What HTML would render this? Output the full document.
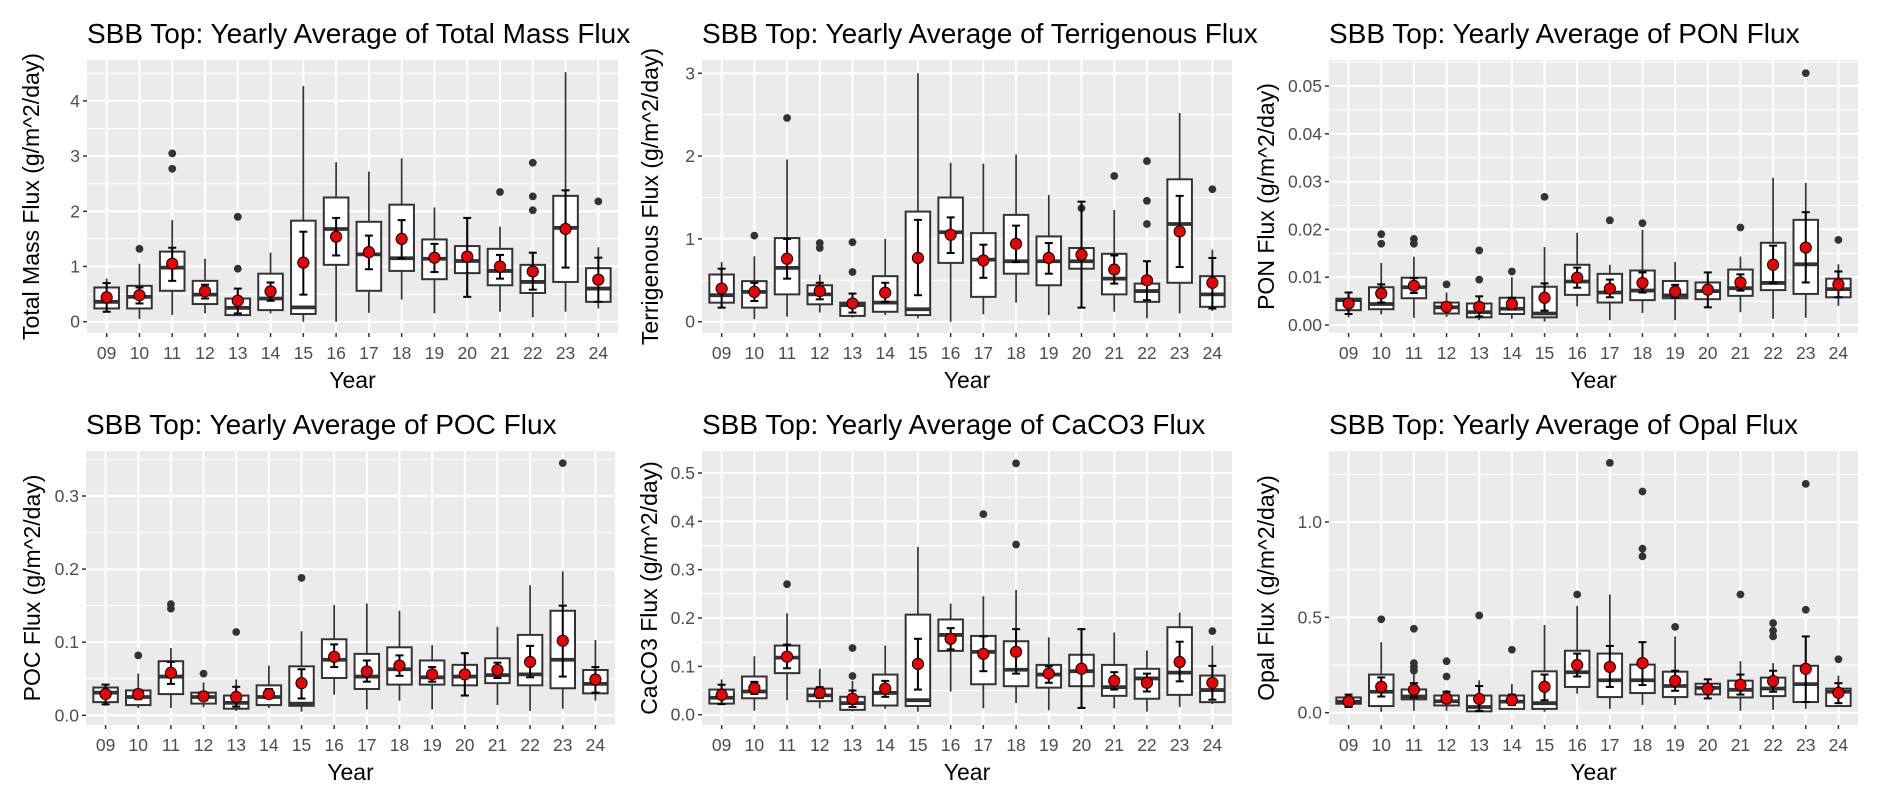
<!DOCTYPE html>
<html><head><meta charset="utf-8"><style>
html,body{margin:0;padding:0;background:#fff;}
svg{display:block;font-family:"Liberation Sans",Arial,sans-serif;}
</style></head><body>
<svg id="fig" width="1882" height="804" viewBox="0 0 1882 804" xmlns="http://www.w3.org/2000/svg"></svg>
<script>
const years = ["09","10","11","12","13","14","15","16","17","18","19","20","21","22","23","24"];

// Panel 1: Total Mass Flux
const tmQ1 = [0.24,0.24,0.56,0.32,0.12,0.21,0.14,1.03,0.56,0.92,0.77,0.88,0.66,0.52,0.72,0.36];
const tmMed = [0.36,0.45,0.98,0.49,0.25,0.42,0.26,1.68,1.22,1.15,1.14,1.10,0.92,0.72,1.70,0.60];
const tmQ3 = [0.62,0.65,1.27,0.74,0.42,0.87,1.83,2.25,1.81,2.12,1.49,1.37,1.32,1.03,2.28,0.97];
const tmWlo = [0.18,0.05,0.12,0.15,0.10,0.15,0.00,0.00,0.16,0.40,0.15,0.45,0.18,0.08,0.18,0.24];
const tmWhi = [0.78,1.05,1.84,1.14,0.60,1.25,4.27,2.89,2.72,2.96,2.07,1.88,1.72,1.25,4.52,1.35];
const tmMean = [0.44,0.48,1.05,0.55,0.38,0.55,1.07,1.54,1.26,1.50,1.16,1.18,1.00,0.91,1.68,0.76];
const tmElo = [0.18,0.33,0.74,0.42,0.15,0.38,0.49,1.20,0.95,1.15,0.90,0.45,0.78,0.58,0.98,0.36];
const tmEhi = [0.70,0.62,1.34,0.67,0.60,0.71,1.63,1.88,1.56,1.84,1.41,1.88,1.21,1.25,2.38,1.16];
const tmOut = [[],[1.32],[3.05,2.77],[],[1.9,0.96],[],[],[],[],[],[],[],[2.35],[2.88,2.27,2.02],[],[2.18]];
const tmTicks = [0,1,2,3,4];
const tmTickLabels = ["0","1","2","3","4"];

// Panel 2: Terrigenous Flux
const teQ1 = [0.23,0.17,0.33,0.21,0.07,0.12,0.08,0.71,0.30,0.58,0.44,0.64,0.33,0.24,0.47,0.18];
const teMed = [0.32,0.36,0.65,0.33,0.20,0.23,0.15,1.08,0.75,0.73,0.73,0.73,0.52,0.37,1.18,0.33];
const teQ3 = [0.57,0.49,1.01,0.44,0.23,0.55,1.33,1.50,1.07,1.29,1.03,0.89,0.82,0.46,1.72,0.55];
const teWlo = [0.17,0.03,0.06,0.11,0.05,0.08,0.04,0.00,0.09,0.23,0.08,0.17,0.12,0.04,0.10,0.13];
const teWhi = [0.72,0.79,1.96,0.57,0.24,1.00,3.00,1.92,1.91,2.02,1.53,1.45,1.35,0.73,2.52,0.87];
const teMean = [0.40,0.36,0.76,0.37,0.22,0.35,0.77,1.05,0.74,0.94,0.77,0.81,0.63,0.50,1.09,0.47];
const teElo = [0.17,0.25,0.52,0.27,0.11,0.24,0.32,0.83,0.53,0.72,0.58,0.17,0.46,0.26,0.66,0.16];
const teEhi = [0.64,0.47,1.00,0.47,0.34,0.47,1.23,1.26,0.93,1.16,0.95,1.45,0.80,0.73,1.52,0.77];
const teOut = [[],[1.04],[2.46],[0.95,0.89],[0.96,0.6],[],[],[],[],[],[],[1.37],[1.76],[1.94,1.46,1.18],[],[1.6]];
const teTicks = [0,1,2,3];
const teTickLabels = ["0","1","2","3"];

// Panel 3: PON Flux
const poQ1 = [0.0031,0.0033,0.0056,0.0024,0.0016,0.0023,0.0016,0.0063,0.0047,0.0052,0.0056,0.0054,0.0061,0.0073,0.0065,0.0058];
const poMed = [0.0052,0.0044,0.0079,0.0037,0.0027,0.0034,0.0024,0.0091,0.0068,0.0072,0.0062,0.0071,0.0077,0.0088,0.0127,0.0075];
const poQ3 = [0.0055,0.0079,0.0099,0.0047,0.0045,0.0057,0.0080,0.0126,0.0107,0.0114,0.0092,0.0089,0.0116,0.0172,0.0220,0.0097];
const poWlo = [0.0016,0.0022,0.0015,0.0017,0.0010,0.0013,0.0007,0.0039,0.0010,0.0025,0.0010,0.0036,0.0027,0.0013,0.0015,0.0040];
const poWhi = [0.0070,0.0130,0.0143,0.0068,0.0060,0.0100,0.0163,0.0193,0.0126,0.0199,0.0132,0.0110,0.0143,0.0308,0.0297,0.0127];
const poMean = [0.0045,0.0066,0.0082,0.0038,0.0038,0.0044,0.0057,0.0099,0.0076,0.0088,0.0070,0.0074,0.0089,0.0126,0.0162,0.0085];
const poElo = [0.0023,0.0047,0.0067,0.0030,0.0018,0.0033,0.0030,0.0078,0.0058,0.0068,0.0057,0.0037,0.0072,0.0088,0.0089,0.0058];
const poEhi = [0.0068,0.0085,0.0098,0.0045,0.0060,0.0057,0.0087,0.0120,0.0095,0.0110,0.0084,0.0110,0.0106,0.0166,0.0236,0.0112];
const poOut = [[],[0.019,0.017],[0.018,0.017],[0.0085],[0.0156,0.0095],[0.0112],[0.0268],[],[0.0219],[0.0213],[],[],[0.0204],[],[0.0527],[0.0178]];
const poTicks = [0,0.01,0.02,0.03,0.04,0.05];
const poTickLabels = ["0.00","0.01","0.02","0.03","0.04","0.05"];

// Panel 4: POC Flux
const pcQ1 = [0.018,0.014,0.029,0.016,0.009,0.014,0.013,0.051,0.036,0.042,0.042,0.041,0.044,0.041,0.037,0.030];
const pcMed = [0.031,0.025,0.053,0.025,0.017,0.025,0.016,0.076,0.053,0.063,0.052,0.053,0.055,0.056,0.076,0.043];
const pcQ3 = [0.038,0.034,0.074,0.031,0.027,0.041,0.067,0.104,0.084,0.093,0.075,0.069,0.078,0.110,0.143,0.062];
const pcWlo = [0.013,0.010,0.010,0.011,0.006,0.010,0.005,0.028,0.008,0.020,0.008,0.027,0.014,0.006,0.009,0.020];
const pcWhi = [0.043,0.057,0.092,0.045,0.049,0.068,0.115,0.151,0.153,0.143,0.096,0.085,0.121,0.178,0.197,0.103];
const pcMean = [0.029,0.029,0.058,0.026,0.025,0.029,0.044,0.080,0.060,0.068,0.056,0.056,0.062,0.073,0.102,0.049];
const pcElo = [0.015,0.022,0.043,0.022,0.012,0.025,0.023,0.066,0.046,0.054,0.046,0.027,0.051,0.052,0.053,0.031];
const pcEhi = [0.042,0.035,0.073,0.031,0.039,0.036,0.063,0.097,0.075,0.082,0.066,0.085,0.072,0.095,0.150,0.066];
const pcOut = [[],[0.082],[0.152,0.146],[0.057],[0.114],[],[0.188],[],[],[],[],[],[],[],[0.345],[]];
const pcTicks = [0,0.1,0.2,0.3];
const pcTickLabels = ["0.0","0.1","0.2","0.3"];

// Panel 5: CaCO3 Flux
const caQ1 = [0.023,0.034,0.086,0.028,0.010,0.019,0.018,0.132,0.063,0.059,0.056,0.059,0.039,0.033,0.041,0.026];
const caMed = [0.035,0.048,0.118,0.040,0.024,0.045,0.030,0.165,0.130,0.093,0.083,0.090,0.057,0.075,0.087,0.051];
const caQ3 = [0.052,0.079,0.143,0.054,0.037,0.083,0.207,0.197,0.163,0.152,0.103,0.124,0.103,0.095,0.181,0.081];
const caWlo = [0.020,0.008,0.030,0.013,0.007,0.012,0.006,0.048,0.013,0.024,0.009,0.014,0.013,0.006,0.016,0.022];
const caWhi = [0.073,0.121,0.210,0.095,0.070,0.143,0.347,0.230,0.245,0.258,0.160,0.177,0.170,0.133,0.211,0.143];
const caMean = [0.041,0.055,0.120,0.045,0.033,0.054,0.105,0.157,0.126,0.130,0.085,0.095,0.070,0.066,0.109,0.066];
const caElo = [0.022,0.043,0.096,0.035,0.016,0.037,0.052,0.135,0.090,0.085,0.066,0.014,0.052,0.048,0.069,0.031];
const caEhi = [0.062,0.068,0.145,0.057,0.050,0.070,0.157,0.179,0.162,0.177,0.100,0.177,0.088,0.085,0.151,0.101];
const caOut = [[],[],[0.27],[],[0.138,0.08],[],[],[],[0.415],[0.52,0.352],[],[],[],[],[],[0.173]];
const caTicks = [0,0.1,0.2,0.3,0.4,0.5];
const caTickLabels = ["0.0","0.1","0.2","0.3","0.4","0.5"];

// Panel 6: Opal Flux
const opQ1 = [0.047,0.035,0.070,0.038,0.007,0.020,0.020,0.135,0.082,0.103,0.082,0.096,0.080,0.087,0.056,0.035];
const opMed = [0.058,0.110,0.085,0.060,0.030,0.058,0.050,0.212,0.170,0.170,0.140,0.130,0.120,0.127,0.150,0.110];
const opQ3 = [0.080,0.200,0.122,0.090,0.090,0.090,0.217,0.325,0.310,0.252,0.215,0.152,0.168,0.184,0.246,0.126];
const opWlo = [0.025,0.005,0.010,0.010,0.004,0.014,0.005,0.100,0.020,0.040,0.040,0.075,0.010,0.015,0.020,0.030];
const opWhi = [0.100,0.370,0.200,0.120,0.170,0.150,0.460,0.560,0.620,0.350,0.400,0.175,0.270,0.260,0.390,0.195];
const opMean = [0.060,0.136,0.120,0.075,0.072,0.066,0.136,0.250,0.240,0.260,0.167,0.125,0.146,0.166,0.230,0.104];
const opElo = [0.030,0.085,0.080,0.050,0.010,0.040,0.065,0.190,0.135,0.145,0.115,0.075,0.095,0.110,0.056,0.050];
const opEhi = [0.095,0.185,0.155,0.110,0.140,0.095,0.200,0.310,0.350,0.370,0.220,0.175,0.200,0.220,0.400,0.155];
const opOut = [[],[0.49],[0.44,0.26,0.24,0.22],[0.27,0.19],[0.51],[0.33],[],[0.62],[1.31],[1.16,0.86,0.82],[0.45],[],[0.62],[0.47,0.43,0.4],[1.2,0.54],[0.28]];
const opTicks = [0,0.5,1.0];
const opTickLabels = ["0.0","0.5","1.0"];

const NS = "http://www.w3.org/2000/svg";
const svg = document.getElementById("fig");
function mk(tag, attrs, parent){
  const e = document.createElementNS(NS, tag);
  for (const k in attrs) e.setAttribute(k, attrs[k]);
  (parent||svg).appendChild(e);
  return e;
}

const panels = [
  {key:"total-mass",title:"SBB Top: Yearly Average of Total Mass Flux",ylab:"Total Mass Flux (g/m^2/day)",
   L:87,R:618,T:60,B:333,y0:321.7,unit:55.2,ylx:31,q1:tmQ1,med:tmMed,q3:tmQ3,wlo:tmWlo,whi:tmWhi,mean:tmMean,elo:tmElo,ehi:tmEhi,out:tmOut,ticks:tmTicks,tl:tmTickLabels},
  {key:"terrigenous",title:"SBB Top: Yearly Average of Terrigenous Flux",ylab:"Terrigenous Flux (g/m^2/day)",
   L:702,R:1232,T:60,B:333,y0:321.7,unit:82.8,ylx:650,q1:teQ1,med:teMed,q3:teQ3,wlo:teWlo,whi:teWhi,mean:teMean,elo:teElo,ehi:teEhi,out:teOut,ticks:teTicks,tl:teTickLabels},
  {key:"pon",title:"SBB Top: Yearly Average of PON Flux",ylab:"PON Flux (g/m^2/day)",
   L:1329,R:1858,T:60,B:333,y0:325,unit:4780,ylx:1266,q1:poQ1,med:poMed,q3:poQ3,wlo:poWlo,whi:poWhi,mean:poMean,elo:poElo,ehi:poEhi,out:poOut,ticks:poTicks,tl:poTickLabels},
  {key:"poc",title:"SBB Top: Yearly Average of POC Flux",ylab:"POC Flux (g/m^2/day)",
   L:86,R:615,T:451,B:725,y0:715.3,unit:731,ylx:32,q1:pcQ1,med:pcMed,q3:pcQ3,wlo:pcWlo,whi:pcWhi,mean:pcMean,elo:pcElo,ehi:pcEhi,out:pcOut,ticks:pcTicks,tl:pcTickLabels},
  {key:"caco3",title:"SBB Top: Yearly Average of CaCO3 Flux",ylab:"CaCO3 Flux (g/m^2/day)",
   L:702,R:1232,T:451,B:725,y0:714.7,unit:483.4,ylx:649,q1:caQ1,med:caMed,q3:caQ3,wlo:caWlo,whi:caWhi,mean:caMean,elo:caElo,ehi:caEhi,out:caOut,ticks:caTicks,tl:caTickLabels},
  {key:"opal",title:"SBB Top: Yearly Average of Opal Flux",ylab:"Opal Flux (g/m^2/day)",
   L:1329,R:1858,T:451,B:725,y0:712.7,unit:190.7,ylx:1266,q1:opQ1,med:opMed,q3:opQ3,wlo:opWlo,whi:opWhi,mean:opMean,elo:opElo,ehi:opEhi,out:opOut,ticks:opTicks,tl:opTickLabels}
];

panels.forEach(p=>{
  const g = mk("g",{});
  
  
  const step = (p.R-p.L)/(years.length-1+1.2);
  const xS = i => p.L + (i+0.6)*step;
  const yS = v => p.y0 - v*p.unit;
  const bg = mk("rect",{x:p.L,y:p.T,width:p.R-p.L,height:p.B-p.T,fill:"#ebebeb"},g);
  
  
  const tstep = p.ticks[1]-p.ticks[0];
  for (let k=-1;k<p.ticks.length+1;k++){
    const v = p.ticks[0]+(k+0.5)*tstep;
    const y = yS(v);
    if (y>p.T && y<p.B) mk("line",{x1:p.L,x2:p.R,y1:y,y2:y,stroke:"#fff","stroke-width":1},g);
  }
  p.ticks.forEach((v,i)=>{
    const y = yS(v);
    mk("line",{x1:p.L,x2:p.R,y1:y,y2:y,stroke:"#fff","stroke-width":2},g);
    mk("line",{x1:p.L-4,x2:p.L,y1:y,y2:y,stroke:"#333","stroke-width":1.5},g);
    const t = mk("text",{x:p.L-7,y:y+6,"text-anchor":"end","font-size":17.5,fill:"#4d4d4d"},g);
    t.textContent = p.tl[i];
    
    
  });
  years.forEach((yr,i)=>{
    const x = xS(i);
    mk("line",{x1:x,x2:x,y1:p.T,y2:p.B,stroke:"#fff","stroke-width":2},g);
    mk("line",{x1:x,x2:x,y1:p.B,y2:p.B+4,stroke:"#333","stroke-width":1.5},g);
    const t = mk("text",{x:x,y:p.B+26,"text-anchor":"middle","font-size":17.5,fill:"#4d4d4d"},g);
    t.textContent = yr;
    
    
  });
  const bw = step*0.75;
  years.forEach((yr,i)=>{
    const x = xS(i);
    const bx = mk("g",{},g);
    
    
    mk("line",{x1:x,x2:x,y1:yS(p.whi[i]),y2:yS(p.q3[i]),stroke:"#333","stroke-width":1.7},bx);
    mk("line",{x1:x,x2:x,y1:yS(p.q1[i]),y2:yS(p.wlo[i]),stroke:"#333","stroke-width":1.7},bx);
    mk("rect",{x:x-bw/2,y:yS(p.q3[i]),width:bw,height:Math.max(0.5,yS(p.q1[i])-yS(p.q3[i])),fill:"#fff",stroke:"#333","stroke-width":2},bx);
    mk("line",{x1:x-bw/2,x2:x+bw/2,y1:yS(p.med[i]),y2:yS(p.med[i]),stroke:"#333","stroke-width":3.8},bx);
    p.out[i].forEach(v=>{
      const c = mk("circle",{cx:x,cy:yS(v),r:3.9,fill:"#333"},bx);
      
      
    });
    const eb = mk("g",{stroke:"#000","stroke-width":2},bx);
    
    
    mk("line",{x1:x,x2:x,y1:yS(p.elo[i]),y2:yS(p.ehi[i])},eb);
    mk("line",{x1:x-4,x2:x+4,y1:yS(p.elo[i]),y2:yS(p.elo[i])},eb);
    mk("line",{x1:x-4,x2:x+4,y1:yS(p.ehi[i]),y2:yS(p.ehi[i])},eb);
    const m = mk("circle",{cx:x,cy:yS(p.mean[i]),r:5.6,fill:"#ee0000",stroke:"#000","stroke-width":1},bx);
    
    
  });
  const tt = mk("text",{x:p.L,y:p.T-17,"font-size":28,fill:"#000"},g);
  tt.textContent = p.title;
  
  
  const xt = mk("text",{x:(p.L+p.R)/2,y:p.B+55,"text-anchor":"middle","font-size":23,fill:"#000"},g);
  xt.textContent = "Year";
  
  
  const cy = (p.T+p.B)/2;
  const yt = mk("text",{x:p.ylx+8,y:cy,"text-anchor":"middle","font-size":23,fill:"#000",transform:"rotate(-90 "+(p.ylx+8)+" "+cy+")"},g);
  yt.textContent = p.ylab;
  
  
});
</script>
</body></html>
